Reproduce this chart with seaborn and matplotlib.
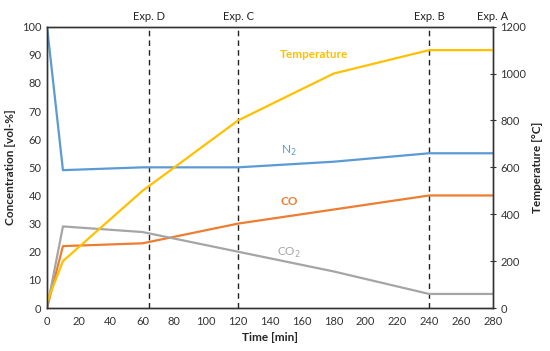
import pandas as pd
import matplotlib
matplotlib.use('Agg')
from matplotlib import pyplot as plt
import seaborn as sns

# values
time = [0, 10, 60, 120, 180, 240, 280]
n2 = [100, 49, 50, 50, 52, 55, 55]
co = [0, 22, 23, 30, 35, 40, 40]
co2 = [0, 29, 27, 20, 13, 5, 5]
temperature = [25, 200, 500, 800, 1000, 1100, 1100]

exp_times = [64, 120, 240, 280]
exp_labels = ['Exp. D', 'Exp. C', 'Exp. B', 'Exp. A']

colors = {'N2': '#5B9BD5', 'CO': '#ED7D31', 'CO2': '#A5A5A5'}
temp_color = '#FFC000'

df = pd.DataFrame({'Time': time * 3,
                   'Concentration': n2 + co + co2,
                   'Gas': ['N2'] * 7 + ['CO'] * 7 + ['CO2'] * 7})
df_t = pd.DataFrame({'Time': time, 'Temperature': temperature})

sns.set_style('white')
plt.rcParams['font.family'] = ['Lato', 'DejaVu Sans']
plt.rcParams['font.size'] = 8

fig = plt.figure(figsize=(5.5, 3.51), dpi=100)
ax = fig.add_axes([0.0855, 0.1225, 0.8105, 0.8015])
ax2 = ax.twinx()

sns.lineplot(data=df, x='Time', y='Concentration', hue='Gas', palette=colors,
             linewidth=1.6, legend=False, ax=ax)
sns.lineplot(data=df_t, x='Time', y='Temperature', color=temp_color,
             linewidth=1.6, ax=ax2)

for t, lab in zip(exp_times, exp_labels):
    if t < 280:
        ax.axvline(t, color='#222222', linewidth=1, dashes=(4, 3), zorder=1)
    ax.text(t, 1.015, lab, transform=ax.get_xaxis_transform(),
            ha='center', va='bottom', fontsize=8, color='#222222')

ax.set_xlim(0, 280)
ax.set_ylim(0, 100)
ax2.set_ylim(0, 1200)
ax.set_xticks(range(0, 281, 20))
ax.set_yticks(range(0, 101, 10))
ax2.set_yticks(range(0, 1201, 200))

ax.set_xlabel('Time [min]', fontweight='bold', fontsize=8.5)
ax.set_ylabel('Concentration [vol-%]', fontweight='bold', fontsize=8.5)
ax2.set_ylabel('Temperature [°C]', fontweight='bold', fontsize=8.5)

for a in (ax, ax2):
    for s in a.spines.values():
        s.set_color('#333333')
        s.set_linewidth(1)
    a.tick_params(colors='#333333', labelsize=8, length=3, width=0.8)
ax.tick_params(axis='x', direction='inout', length=4)
ax.tick_params(axis='y', length=0, pad=4)
ax2.tick_params(axis='y', direction='inout', length=4)

# series labels
ax.text(168, 90, 'Temperature', color=temp_color, fontweight='bold', ha='center', va='center', fontsize=8.5)
ax.text(152, 56, 'N$_2$', color=colors['N2'], ha='center', va='center', fontsize=8.5)
ax.text(152, 38, 'CO', color=colors['CO'], fontweight='bold', ha='center', va='center', fontsize=8.5)
ax.text(152, 19.5, 'CO$_2$', color=colors['CO2'], ha='center', va='center', fontsize=8.5)

plt.savefig('out.png', dpi=100)
